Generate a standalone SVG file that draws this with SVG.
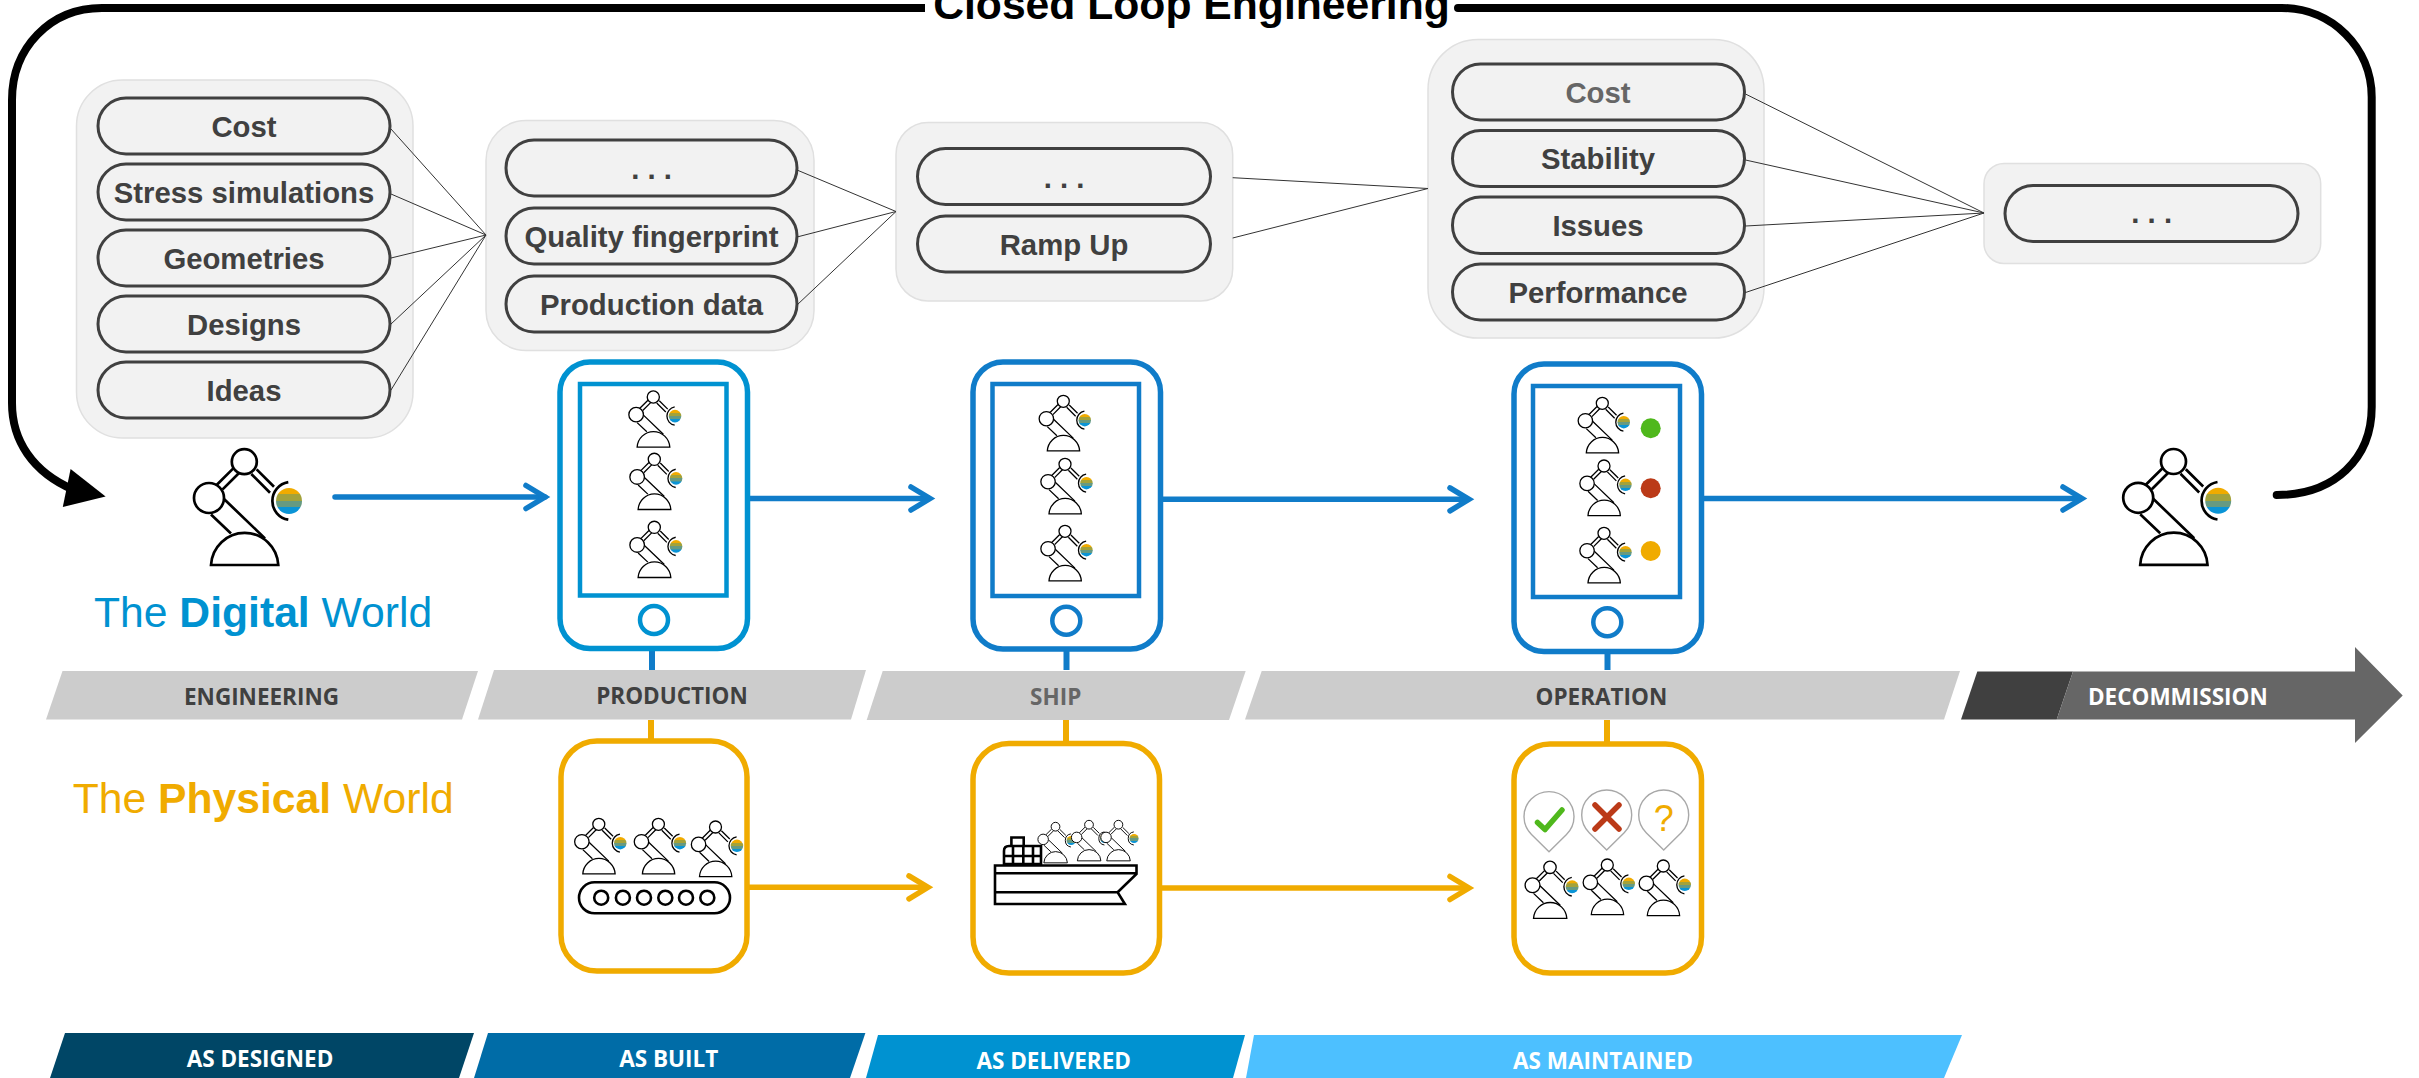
<svg xmlns="http://www.w3.org/2000/svg" width="2419" height="1078" viewBox="0 0 2419 1078">
<style>
.panel{fill:#f2f2f2;stroke:#e0e0e0;stroke-width:1.5}
.pill{fill:#f2f2f2;stroke:#404040;stroke-width:3}
.pt{font:bold 29.3px "Liberation Sans",Arial,sans-serif;fill:#404040;text-anchor:middle}
.fan{stroke:#333;stroke-width:1;fill:none}
.bar{font:700 22.5px "Open Sans",sans-serif;text-anchor:middle;fill:#404040}
.blue{stroke:#107cc9;stroke-width:5.5;fill:none}
.yel{stroke:#f0ab00;stroke-width:5.5;fill:none}
.phone{fill:#fff;stroke-width:5.5}
.inner{fill:#fff;stroke-width:4.5}
.world{font:42.67px "Liberation Sans",Arial,sans-serif}
.rb{fill:#fff;stroke:#000;stroke-width:2.7}
.ship{fill:#fff;stroke:#000;stroke-width:2.6}
.pin{fill:#fff;stroke:#a8a8a8;stroke-width:1.4}
</style>
<defs>
<linearGradient id="ballg" x1="0" y1="0" x2="0" y2="1">
<stop offset="0" stop-color="#f0ab00"/><stop offset=".24" stop-color="#f0ab00"/>
<stop offset=".25" stop-color="#a3a23b"/><stop offset=".49" stop-color="#a3a23b"/>
<stop offset=".5" stop-color="#669a82"/><stop offset=".74" stop-color="#669a82"/>
<stop offset=".75" stop-color="#0a94d6"/><stop offset="1" stop-color="#0a94d6"/>
</linearGradient>
<g id="robot">
<path class="rb" style="fill:none" d="M-27.7,23.3L-11,6.7M-21.7,27.7L-5,11M12.3,7.7L29.7,25M7,12.3L25.7,31M-20.3,37.3L20.7,76.7M-33.3,52.7L-13.3,71.7"/>
<circle class="rb" cx="0" cy="0" r="12.5"/>
<circle class="rb" cx="-35.3" cy="36.3" r="15"/>
<path class="rb" d="M-33.3,103.3A33.7,34 0 0 1 34,103.3Z"/>
<path class="rb" style="fill:none" d="M44,20.5A19,19 0 0 0 44,58"/>
<circle cx="44.7" cy="39.3" r="13" fill="url(#ballg)"/>
</g>
<marker id="ab" markerUnits="userSpaceOnUse" viewBox="-25 -16 36 32" refX="0" refY="0" markerWidth="36" markerHeight="32" orient="auto"><path d="M-19,-11.5L0,0L-19,11.5" fill="none" stroke="#107cc9" stroke-width="5.5" stroke-linecap="round"/></marker>
<marker id="ay" markerUnits="userSpaceOnUse" viewBox="-25 -16 36 32" refX="0" refY="0" markerWidth="36" markerHeight="32" orient="auto"><path d="M-19,-11.5L0,0L-19,11.5" fill="none" stroke="#f0ab00" stroke-width="5.5" stroke-linecap="round"/></marker>
</defs>
<rect width="2419" height="1078" fill="#fff"/>

<g id="lifecycle-bars">
<polygon points="62.5,671 478,671 462,719.5 46,719.5" fill="#ccc"/>
<polygon points="494,670 866,670 851,719.5 478,719.5" fill="#ccc"/>
<polygon points="882.7,671 1245.7,671 1229,720 866.7,720" fill="#ccc"/>
<polygon points="1261.7,671 1960,671 1944,719.5 1245,719.5" fill="#ccc"/>
<polygon points="1977.3,671.5 2073,671.5 2056.7,719.5 1961,719.5" fill="#404040"/>
<polygon points="2073,671.5 2355,671.5 2355,647 2402.7,695.6 2355,743 2355,719.5 2056.7,719.5" fill="#666"/>
<text class="bar" x="261.5" y="704.5">ENGINEERING</text>
<text class="bar" x="672" y="703.5">PRODUCTION</text>
<text class="bar" x="1055.7" y="705" style="fill:#666">SHIP</text>
<text class="bar" x="1601.4" y="705">OPERATION</text>
<text class="bar" x="2177.8" y="705.3" style="fill:#fff">DECOMMISSION</text>
<polygon points="65,1033 474,1033 459,1078 50,1078" fill="#004666"/>
<polygon points="488,1033 865.4,1033 850,1078 474,1078" fill="#006ca7"/>
<polygon points="878,1035 1245,1035 1233,1078 866,1078" fill="#0092d1"/>
<polygon points="1254,1035 1962,1035 1944,1078 1246,1078" fill="#4dc0ff"/>
<text class="bar" x="260" y="1067" style="fill:#fff">AS DESIGNED</text>
<text class="bar" x="668.7" y="1066.7" style="fill:#fff">AS BUILT</text>
<text class="bar" x="1053.7" y="1069" style="fill:#fff">AS DELIVERED</text>
<text class="bar" x="1603" y="1069" style="fill:#fff">AS MAINTAINED</text>
</g>

<g id="panel-designed">
<rect class="panel" x="76.5" y="80" width="336.5" height="358" rx="46"/>
<rect class="pill" x="98" y="98" width="292" height="56" rx="28"/><text class="pt" x="244" y="136.5">Cost</text>
<rect class="pill" x="98" y="164" width="292" height="56" rx="28"/><text class="pt" x="244" y="202.5">Stress simulations</text>
<rect class="pill" x="98" y="230" width="292" height="56" rx="28"/><text class="pt" x="244" y="268.5">Geometries</text>
<rect class="pill" x="98" y="296" width="292" height="56" rx="28"/><text class="pt" x="244" y="334.5">Designs</text>
<rect class="pill" x="98" y="362" width="292" height="56" rx="28"/><text class="pt" x="244" y="400.5">Ideas</text>
</g>
<g id="panel-built">
<rect class="panel" x="486" y="120.5" width="328" height="230" rx="40"/>
<rect class="pill" x="506" y="140" width="291" height="56" rx="28"/><text class="pt" x="651.5" y="179">. . .</text>
<rect class="pill" x="506" y="208" width="291" height="56" rx="28"/><text class="pt" x="651.5" y="246.5">Quality fingerprint</text>
<rect class="pill" x="506" y="276" width="291" height="56" rx="28"/><text class="pt" x="651.5" y="314.5">Production data</text>
</g>
<g id="panel-delivered">
<rect class="panel" x="896" y="122.5" width="336.7" height="178.5" rx="32"/>
<rect class="pill" x="917.5" y="148.5" width="293" height="56" rx="28"/><text class="pt" x="1064" y="188">. . .</text>
<rect class="pill" x="917.5" y="216" width="293" height="56" rx="28"/><text class="pt" x="1064" y="255">Ramp Up</text>
</g>
<g id="panel-maintained">
<rect class="panel" x="1428" y="39.5" width="336" height="298.5" rx="50"/>
<rect class="pill" x="1452.5" y="64" width="292" height="56" rx="28"/><text class="pt" x="1598" y="103.3" style="fill:#666">Cost</text>
<rect class="pill" x="1452.5" y="130.5" width="292" height="56" rx="28"/><text class="pt" x="1598" y="169.3">Stability</text>
<rect class="pill" x="1452.5" y="197" width="292" height="56.5" rx="28"/><text class="pt" x="1598" y="235.7">Issues</text>
<rect class="pill" x="1452.5" y="264" width="292" height="56" rx="28"/><text class="pt" x="1598" y="303.3">Performance</text>
</g>
<g id="panel-end">
<rect class="panel" x="1984" y="163.5" width="336.7" height="100" rx="20"/>
<rect class="pill" x="2005" y="185.5" width="293" height="56" rx="28"/><text class="pt" x="2151.7" y="223">. . .</text>
</g>

<g id="connectors">
<path class="fan" d="M391,129L486,235M391,194L486,235M391,258L486,235M391,324L486,235M391,390L486,235"/>
<path class="fan" d="M797,170L896,211.5M797,237L896,211.5M797,305L896,211.5"/>
<path class="fan" d="M1232.7,177.7L1428,188.5M1232.7,238L1428,188.5"/>
<path class="fan" d="M1745.5,94L1984,213M1745.5,160L1984,213M1745.5,226L1984,213M1745.5,292.5L1984,213"/>
<path d="M925,8H102C50,8 12,48 12,100V403C12,440 32,472 74,490" fill="none" stroke="#000" stroke-width="8"/>
<polygon points="105.6,496.5 70.6,469 62.8,507" fill="#000"/>
<path d="M1458,8H2281.7C2332,8 2371.7,48 2371.7,97V407C2371.7,458 2335,495 2276.7,495" fill="none" stroke="#000" stroke-width="8" stroke-linecap="round"/>
<path class="blue" d="M335,497H545" stroke-linecap="round" marker-end="url(#ab)"/>
<path class="blue" d="M747,498.5H930" marker-end="url(#ab)"/>
<path class="blue" d="M1161,499.3H1469" marker-end="url(#ab)"/>
<path class="blue" d="M1702,498.5H2082" marker-end="url(#ab)"/>
<path class="yel" d="M747,887.3H928" marker-end="url(#ay)"/>
<path class="yel" d="M1160,888H1469" marker-end="url(#ay)"/>
<path d="M652,648V670M1066.5,649V670M1607.5,651V670" stroke="#107cc9" stroke-width="6" fill="none"/>
<path d="M651,720V741M1066,720V743M1607,720V744" stroke="#f0ab00" stroke-width="6" fill="none"/>
</g>

<g id="title"><text x="1191.5" y="19" style="font:bold 42.67px 'Liberation Sans',Arial,sans-serif;text-anchor:middle" fill="#000">Closed Loop Engineering</text></g>
<g id="label-digital"><text class="world" x="94" y="626.5" fill="#0092d1">The <tspan font-weight="bold">Digital</tspan> World</text></g>
<g id="label-physical"><text class="world" x="72.7" y="813" fill="#f0ab00">The <tspan font-weight="bold">Physical</tspan> World</text></g>

<g id="robot-start"><use href="#robot" transform="translate(244.3,461.7)"/></g>
<g id="robot-end"><use href="#robot" transform="translate(2173.5,461.5)"/></g>

<g id="phone-production" stroke="#0092d1">
<rect class="phone" x="560" y="362" width="187.5" height="286.5" rx="30"/>
<rect class="inner" x="580" y="384" width="146.5" height="211.5"/>
<circle cx="654" cy="620" r="14" fill="#fff" stroke-width="4.5"/>
<use href="#robot" transform="translate(653.3,397) scale(.486)" stroke="none"/>
<use href="#robot" transform="translate(654.3,459.3) scale(.486)" stroke="none"/>
<use href="#robot" transform="translate(654.3,527.3) scale(.486)" stroke="none"/>
</g>
<g id="phone-ship" stroke="#107cc9">
<rect class="phone" x="973" y="362" width="187.5" height="287" rx="30"/>
<rect class="inner" x="992.5" y="384" width="146.5" height="212"/>
<circle cx="1066.3" cy="620.7" r="14" fill="#fff" stroke-width="4.5"/>
<use href="#robot" transform="translate(1063.3,401.3) scale(.48)" stroke="none"/>
<use href="#robot" transform="translate(1065,464.3) scale(.48)" stroke="none"/>
<use href="#robot" transform="translate(1065,531.3) scale(.48)" stroke="none"/>
</g>
<g id="phone-operation" stroke="#107cc9">
<rect class="phone" x="1514" y="364" width="187.5" height="287.5" rx="30"/>
<rect class="inner" x="1533" y="386" width="147" height="211"/>
<circle cx="1607.3" cy="622.3" r="14" fill="#fff" stroke-width="4.5"/>
<use href="#robot" transform="translate(1602.3,403.3) scale(.48)" stroke="none"/>
<use href="#robot" transform="translate(1604,466) scale(.48)" stroke="none"/>
<use href="#robot" transform="translate(1604,533.3) scale(.48)" stroke="none"/>
<circle cx="1650.7" cy="428.3" r="10" fill="#4fb81c" stroke="none"/>
<circle cx="1650.7" cy="488.3" r="10" fill="#bb3a18" stroke="none"/>
<circle cx="1650.7" cy="551" r="10" fill="#f0ab00" stroke="none"/>
</g>

<g id="box-production">
<rect x="561" y="741" width="186" height="230" rx="36" fill="#fff" stroke="#f0ab00" stroke-width="5.5"/>
<use href="#robot" transform="translate(598.8,824.3) scale(.48)"/>
<use href="#robot" transform="translate(658.4,824.3) scale(.48)"/>
<use href="#robot" transform="translate(715.5,827) scale(.48)"/>
<rect x="579" y="882.3" width="151" height="31" rx="15.5" fill="#fff" stroke="#000" stroke-width="2.6"/>
<g fill="#fff" stroke="#000" stroke-width="2.6">
<circle cx="601.2" cy="897.7" r="7"/><circle cx="622.9" cy="897.7" r="7"/><circle cx="644" cy="897.7" r="7"/><circle cx="665.3" cy="897.7" r="7"/><circle cx="686" cy="897.7" r="7"/><circle cx="707.3" cy="897.7" r="7"/>
</g>
</g>
<g id="box-ship">
<rect x="973" y="743.5" width="186.5" height="229.5" rx="36" fill="#fff" stroke="#f0ab00" stroke-width="5.5"/>
<use href="#robot" transform="translate(1055.5,826.7) scale(.35)"/>
<use href="#robot" transform="translate(1089,824.7) scale(.35)"/>
<use href="#robot" transform="translate(1118.4,824.7) scale(.35)"/>
<path class="ship" d="M1011.4,846V837.5H1023.7V846"/>
<path class="ship" d="M1004,864V851Q1004,846 1009,846H1041V864ZM1013,846V864M1023.3,846V864M1033,846V864M1004,856H1041"/>
<path class="ship" d="M995,865.5H1136.5V874L1117.6,892.3L1124.9,904H995ZM995,873.3H1136.5M995,892.3H1117.6"/>
</g>
<g id="box-operation">
<rect x="1514" y="744" width="187.5" height="229" rx="36" fill="#fff" stroke="#f0ab00" stroke-width="5.5"/>
<path class="pin" d="M1549,851.7L1531.5,834.5A25,25 0 1 1 1566.5,834.5Z"/>
<path class="pin" d="M1606.7,850L1589.2,832.8A25,25 0 1 1 1624.2,832.8Z"/>
<path class="pin" d="M1663.7,850L1646.2,832.8A25,25 0 1 1 1681.2,832.8Z"/>
<path d="M1537.5,822.5L1545,829.5L1562,810" fill="none" stroke="#4fb81c" stroke-width="5.5" stroke-linecap="round" stroke-linejoin="round"/>
<path d="M1595,805L1619,829M1619,805L1595,829" fill="none" stroke="#bb3a18" stroke-width="5.5" stroke-linecap="round"/>
<text x="1663.7" y="830.5" style="font:36px 'Liberation Sans',Arial,sans-serif;text-anchor:middle" fill="#f0ab00">?</text>
<use href="#robot" transform="translate(1550,867.3) scale(.495)"/>
<use href="#robot" transform="translate(1607.3,865) scale(.48)"/>
<use href="#robot" transform="translate(1663.3,866) scale(.48)"/>
</g>
</svg>
